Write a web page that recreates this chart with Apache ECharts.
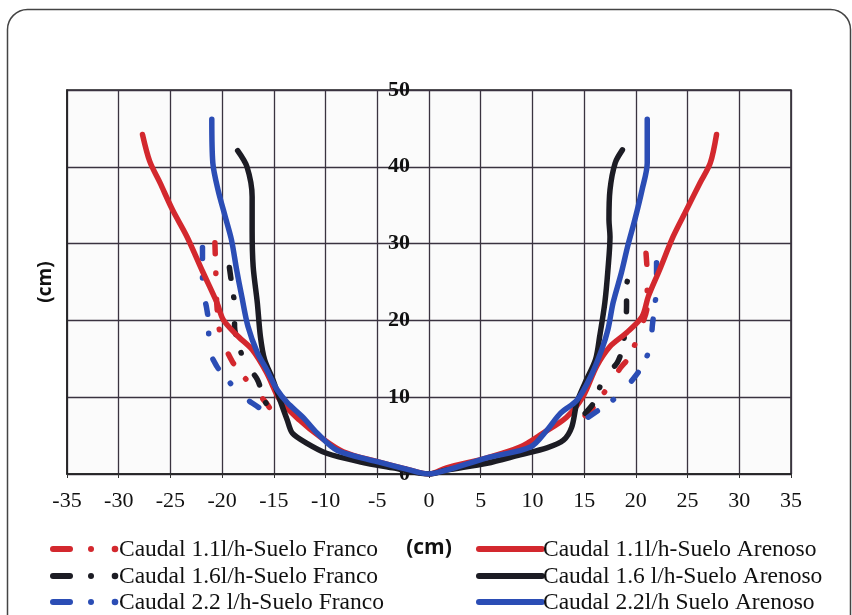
<!DOCTYPE html>
<html>
<head>
<meta charset="utf-8">
<script src="https://cdn.jsdelivr.net/npm/echarts@6/dist/echarts.min.js"></script>
<style>html,body{margin:0;padding:0;background:#fff;}#c{width:852px;height:615px;}</style>
</head>
<body>
<div id="c"></div>
<script>
// Series names
const seriesNames = [
  'Caudal 1.1l/h-Suelo Franco',
  'Caudal 1.6l/h-Suelo Franco',
  'Caudal 2.2 l/h-Suelo Franco',
  'Caudal 1.1l/h-Suelo Arenoso',
  'Caudal 1.6 l/h-Suelo Arenoso',
  'Caudal 2.2l/h Suelo Arenoso'
];
// Franco (dash-dot) curves, left branch and right branch
const franco11Left  = [[-20.7,30.1],[-20.6,25.8],[-20.5,21.8],[-20.2,18.4],[-19.0,14.6],[-17.3,11.7],[-15.6,9.0],[-15.0,7.6]];
const franco11Right = [[15.1,7.6],[15.9,8.7],[17.5,11.7],[18.5,13.8],[19.4,15.3],[20.3,18.4],[21.1,22.0],[21.1,25.8],[20.9,30.1]];
const franco16Left  = [[-19.3,26.9],[-19.0,24.0],[-18.8,22.0],[-18.8,19.2],[-18.3,16.4],[-17.8,14.5],[-16.6,12.3],[-15.9,9.6],[-15.1,7.9]];
const franco16Right = [[15.1,7.9],[16.1,9.6],[16.8,12.3],[18.2,14.5],[18.7,16.4],[19.0,19.2],[19.1,22.0],[19.1,24.3],[19.5,26.9]];
const franco22Left  = [[-21.9,29.5],[-21.9,27.0],[-21.9,24.4],[-21.5,21.6],[-21.3,19.4],[-21.3,16.6],[-20.5,14.0],[-19.5,12.3],[-18.2,10.3],[-16.5,8.7],[-15.2,7.4]];
const franco22Right = [[15.4,7.4],[16.7,8.6],[18.4,10.3],[19.7,12.3],[20.6,14.0],[21.4,16.6],[21.6,19.4],[21.8,21.6],[22.0,24.3],[22.0,27.0],[22.0,29.5]];
// Arenoso (solid) curves: from left top through origin to right top
const arenoso11 = [[-27.7,44.2],[-27.0,40.7],[-26.0,37.9],[-24.8,34.4],[-23.4,30.9],[-21.9,26.4],[-20.5,22.3],[-19.9,20.1],[-18.6,18.1],[-17.1,16.2],[-15.7,13.2],[-14.4,9.6],[-12.5,7.0],[-10.5,4.8],[-8.3,2.9],[-5.0,1.6],[-1.8,0.5],[0,0],
  [1.7,0.8],[5.6,2.1],[8.8,3.5],[11.0,5.3],[13.3,7.4],[14.9,10.1],[16.2,14.0],[17.5,16.6],[19.1,18.4],[20.6,20.5],[21.2,23.1],[22.3,26.6],[23.6,30.9],[24.9,34.4],[26.2,37.9],[27.2,40.5],[27.8,44.2]];
const arenoso16 = [[-18.5,42.1],[-17.6,40.0],[-17.1,36.1],[-17.1,31.8],[-17.0,27.0],[-16.6,22.3],[-16.3,17.9],[-15.9,14.9],[-15.1,12.3],[-14.4,9.6],[-13.7,7.0],[-13.2,5.3],[-11.8,4.0],[-9.9,2.7],[-6.7,1.6],[-3.5,0.8],[0,0],
  [1.7,0.5],[5.6,1.4],[8.8,2.5],[11.4,3.4],[13.0,4.4],[13.8,6.1],[14.3,9.3],[15.1,11.9],[16.1,14.9],[16.5,17.9],[17.0,22.3],[17.3,26.6],[17.5,30.9],[17.4,33.1],[17.5,37.0],[18.0,40.5],[18.7,42.2]];
const arenoso22 = [[-21.0,46.2],[-20.9,40.5],[-20.4,37.0],[-19.7,33.5],[-19.1,30.5],[-18.6,26.6],[-18.1,23.1],[-17.5,19.2],[-16.6,15.8],[-15.7,13.6],[-14.7,11.0],[-13.7,9.3],[-12.2,7.4],[-10.8,5.3],[-8.9,3.1],[-5.0,1.6],[-1.8,0.5],[0,0],
  [1.7,0.5],[5.6,2.1],[9.8,3.5],[11.4,5.7],[12.7,7.9],[14.3,9.6],[15.6,12.6],[16.7,16.2],[17.3,18.8],[17.8,22.3],[18.6,26.2],[19.2,29.6],[19.9,33.1],[20.6,37.0],[21.1,40.5],[21.1,46.2]];

const RED = '#d3282e', BLACK = '#1c1c24', BLUE = '#2b4db5';
const COLORS = [RED, BLACK, BLUE];
const DASH = [11, 19, 0.5, 26];

function francoSeries(name, color, data) {
  return {
    name: name, type: 'line', data: data, symbol: 'none', smooth: 0.3, z: 2,
    lineStyle: { color: color, width: 5.5, type: DASH, cap: 'round', join: 'round' },
    itemStyle: { color: color }
  };
}
function arenosoSeries(name, color, data) {
  return {
    name: name, type: 'line', data: data, symbol: 'none', smooth: 0.3, z: 3,
    lineStyle: { color: color, width: 5.5, cap: 'round', join: 'round' },
    itemStyle: { color: color }
  };
}

// Legend drawn as graphic elements (icons + real text)
const rowY = [549, 576, 602];
const legendGraphics = [];
const legendFont = { fontFamily: 'Liberation Serif', fontSize: 23.5, fill: '#111' };
for (let i = 0; i < 3; i++) {
  const y = rowY[i], c = COLORS[i];
  legendGraphics.push({ type: 'line', shape: { x1: 53, y1: y, x2: 70, y2: y }, style: { stroke: c, lineWidth: 6, lineCap: 'round' } });
  legendGraphics.push({ type: 'circle', shape: { cx: 91, cy: y, r: 3 }, style: { fill: c } });
  legendGraphics.push({ type: 'circle', shape: { cx: 115, cy: y, r: 3.3 }, style: { fill: c } });
  legendGraphics.push({ type: 'text', x: 119, y: y + 1, style: Object.assign({ text: seriesNames[i], verticalAlign: 'middle', align: 'left' }, legendFont) });
  legendGraphics.push({ type: 'line', shape: { x1: 479, y1: y, x2: 542, y2: y }, style: { stroke: c, lineWidth: 6, lineCap: 'round' } });
  legendGraphics.push({ type: 'text', x: 543, y: y + 1, style: Object.assign({ text: seriesNames[3 + i], verticalAlign: 'middle', align: 'left' }, legendFont) });
}

const chart = echarts.init(document.getElementById('c'));
chart.setOption({
  backgroundColor: '#fff',
  animation: false,
  graphic: [{
    type: 'rect', left: 5, top: 7, z: -10,
    shape: { width: 843, height: 640, r: 20 },
    style: { fill: 'none', stroke: '#444', lineWidth: 1.5 }
  }].concat(legendGraphics),
  grid: { left: 67, right: 61, top: 90, bottom: 141, outerBoundsMode: 'none', containLabel: false,
          show: true, borderColor: '#222', borderWidth: 1.5, backgroundColor: '#fbfbfb' },
  xAxis: {
    type: 'value', min: -35, max: 35, interval: 5,
    name: '(cm)', nameLocation: 'middle', nameGap: 64,
    nameTextStyle: { fontFamily: 'Open Sans', fontWeight: 'bold', fontSize: 21, color: '#111' },
    axisLine: { onZero: false, lineStyle: { color: '#222', width: 1.5 } },
    axisTick: { show: true, length: 4, lineStyle: { color: '#333' } },
    axisLabel: { fontFamily: 'Liberation Serif', fontSize: 22, color: '#111', margin: 16, showMinLabel: true, showMaxLabel: true, hideOverlap: false },
    splitLine: { show: true, lineStyle: { color: '#3a3340', width: 1.3 } }
  },
  yAxis: {
    type: 'value', min: 0, max: 50, interval: 10,
    name: '(cm)', nameLocation: 'middle', nameGap: 12, nameRotate: 90,
    nameTextStyle: { fontFamily: 'Open Sans', fontWeight: 'bold', fontSize: 19, color: '#111' },
    axisLine: { show: true, onZero: false, lineStyle: { color: '#222', width: 1.5 } },
    axisTick: { show: false },
    axisLabel: { fontFamily: 'Liberation Serif', fontWeight: 'bold', fontSize: 22, color: '#111', margin: -343, align: 'right' },
    splitLine: { show: true, lineStyle: { color: '#3a3340', width: 1.3 } }
  },
  series: [
    francoSeries(seriesNames[0], RED, franco11Left),
    francoSeries(seriesNames[1], BLACK, franco16Left),
    francoSeries(seriesNames[2], BLUE, franco22Left),
    francoSeries(seriesNames[0], RED, franco11Right),
    francoSeries(seriesNames[1], BLACK, franco16Right),
    francoSeries(seriesNames[2], BLUE, franco22Right),
    arenosoSeries(seriesNames[3], RED, arenoso11),
    arenosoSeries(seriesNames[4], BLACK, arenoso16),
    arenosoSeries(seriesNames[5], BLUE, arenoso22)
  ]
});
</script>
</body>
</html>
